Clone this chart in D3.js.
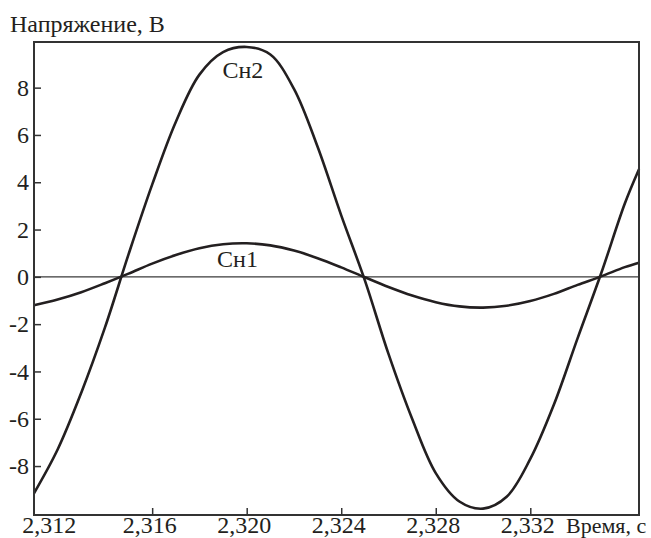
<!DOCTYPE html>
<html>
<head>
<meta charset="utf-8">
<script src="https://cdn.jsdelivr.net/npm/d3@7"></script>
<style>
  html, body { margin: 0; padding: 0; background: #fff; }
  svg text { font-family: "Liberation Serif", "Times New Roman", "DejaVu Serif", serif; fill: #231f20; }
</style>
</head>
<body>
<svg id="chart" width="651" height="538"></svg>
<script>
// ---- data ----
const times = [2.311, 2.312, 2.313, 2.314, 2.315, 2.316, 2.317, 2.318, 2.319, 2.320,
               2.321, 2.322, 2.323, 2.324, 2.325, 2.326, 2.327, 2.328, 2.329, 2.330,
               2.331, 2.332, 2.333, 2.334, 2.335, 2.336, 2.3366];
const ch1 = [-1.2, -0.96, -0.65, -0.27, 0.135, 0.56, 0.92, 1.21, 1.38, 1.42,
             1.33, 1.11, 0.79, 0.40, -0.02, -0.43, -0.79, -1.07, -1.25, -1.3,
             -1.22, -1.02, -0.72, -0.34, 0.02, 0.41, 0.6];
const ch2 = [-9.15, -7.3, -4.9, -2.15, 0.95, 3.9, 6.55, 8.55, 9.5, 9.72,
             9.4, 7.95, 5.5, 2.6, -0.15, -3.26, -6.0, -8.3, -9.5, -9.8,
             -9.3, -7.7, -5.4, -2.6, 0.15, 3.1, 4.55];
const seriesNames = ["Сн1", "Сн2"];
const labelAnchors = [{t: 2.31961, v: 0.42}, {t: 2.31984, v: 8.41}];
const xTicks = [2.312, 2.316, 2.320, 2.324, 2.328, 2.332];
const xTickLabels = ["2,312", "2,316", "2,320", "2,324", "2,328", "2,332"];
const yTicks = [-8, -6, -4, -2, 0, 2, 4, 6, 8];
const yTickLabels = ["-8", "-6", "-4", "-2", "0", "2", "4", "6", "8"];
const xTitle = "Время, с";
const yTitle = "Напряжение, В";

// ---- layout ----
const svg = d3.select("#chart");
const pL = 34, pR = 639, pT = 42, pB = 515;
const ink = "#231f20";
const fs = 24;

const x = d3.scaleLinear().domain([2.311, 2.3366]).range([pL, pR]);
const y = d3.scaleLinear().domain([-10.07, 9.93]).range([pB, pT]);

// zero line
svg.append("line")
  .attr("x1", pL).attr("x2", pR)
  .attr("y1", y(0)).attr("y2", y(0))
  .attr("stroke", "#3a3a3a").attr("stroke-width", 1.2);

// curves
const line = d3.line()
  .x((d, i) => x(times[i]))
  .y(d => y(d))
  .curve(d3.curveCatmullRom.alpha(0.5));

[ch1, ch2].forEach(s => {
  svg.append("path")
    .attr("d", line(s))
    .attr("fill", "none")
    .attr("stroke", ink)
    .attr("stroke-width", 2.6)
    .attr("stroke-linejoin", "round");
});

// frame
svg.append("rect")
  .attr("x", pL).attr("y", pT)
  .attr("width", pR - pL).attr("height", pB - pT)
  .attr("fill", "none").attr("stroke", "#333").attr("stroke-width", 2);

// x axis
const xAxis = d3.axisBottom(x)
  .tickValues(xTicks)
  .tickSize(-7)
  .tickPadding(0)
  .tickFormat((d, i) => xTickLabels[i]);
const gx = svg.append("g").attr("transform", `translate(0,${pB})`).call(xAxis);
gx.select(".domain").remove();
gx.selectAll(".tick line").attr("stroke", "#333").attr("stroke-width", 1.5)
  .filter((d, i) => i === 0).remove();
gx.selectAll(".tick text")
  .attr("font-size", fs).attr("fill", ink)
  .attr("font-family", "Liberation Serif, serif")
  .attr("y", 18).attr("dy", 0)
  .attr("dx", (d, i) => i === 0 ? -9 : -3);

svg.append("text")
  .attr("x", 566).attr("y", 533)
  .attr("font-size", 22)
  .text(xTitle);

// y axis
const yAxis = d3.axisLeft(y)
  .tickValues(yTicks)
  .tickSize(-7)
  .tickPadding(5)
  .tickFormat((d, i) => yTickLabels[i]);
const gy = svg.append("g").attr("transform", `translate(${pL},0)`).call(yAxis);
gy.select(".domain").remove();
gy.selectAll(".tick line").attr("stroke", "#333").attr("stroke-width", 1.5);
gy.selectAll(".tick text")
  .attr("font-size", fs).attr("fill", ink)
  .attr("font-family", "Liberation Serif, serif");

svg.append("text")
  .attr("x", 10).attr("y", 32)
  .attr("font-size", fs)
  .text(yTitle);

// series labels
seriesNames.forEach((n, i) => {
  svg.append("text")
    .attr("x", x(labelAnchors[i].t))
    .attr("y", y(labelAnchors[i].v))
    .attr("text-anchor", "middle")
    .attr("font-size", fs)
    .text(n);
});
</script>
</body>
</html>
